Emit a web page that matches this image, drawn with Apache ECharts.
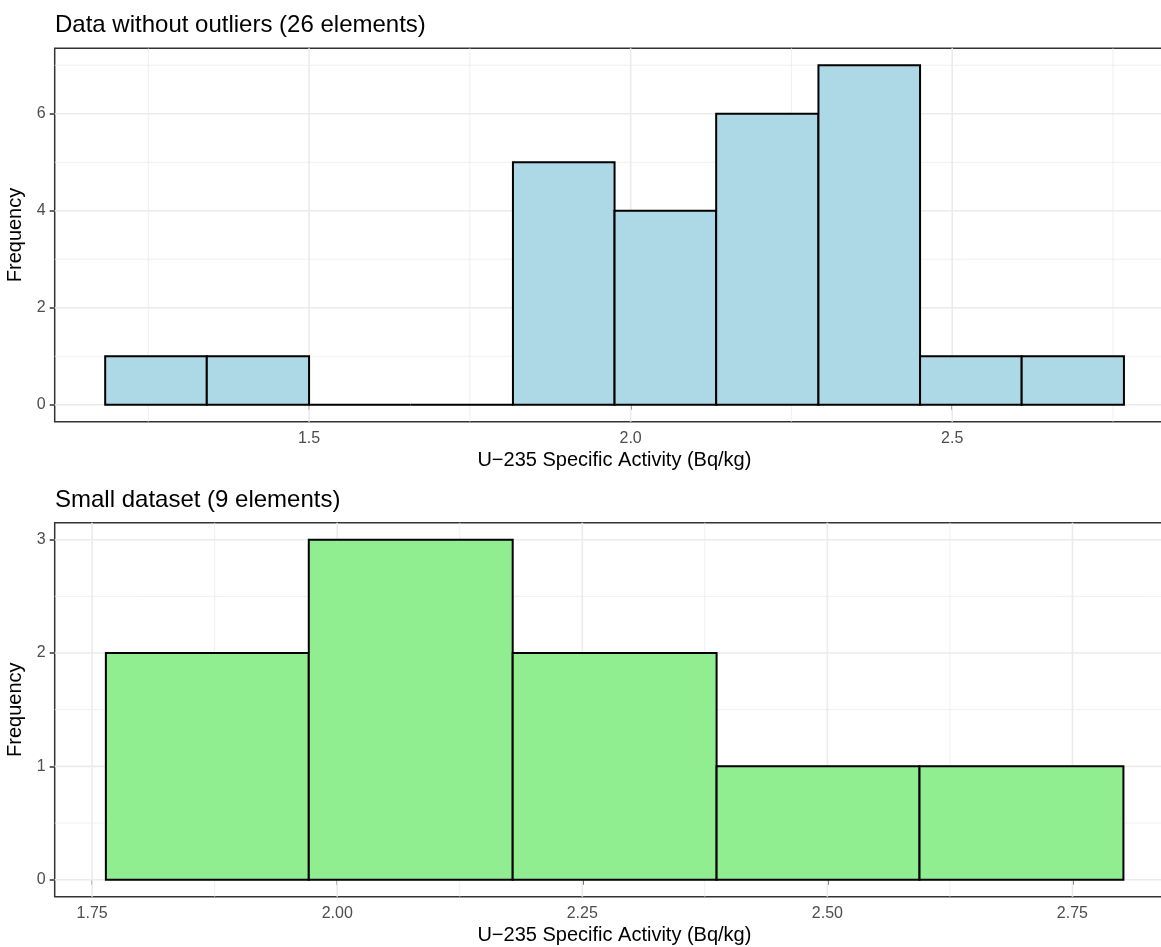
<!DOCTYPE html>
<html>
<head>
<meta charset="utf-8">
<title>U-235 histograms</title>
<script src="https://cdn.jsdelivr.net/npm/echarts@6/dist/echarts.min.js"></script>
<style>
  html, body { margin: 0; padding: 0; background: #fff; }
  #chart { width: 1161px; height: 947px; }
</style>
</head>
<body>
<div id="chart"></div>
<script>
// top panel: data without outliers
const topEdges = [1.183, 1.341, 1.500, 1.658, 1.817, 1.975, 2.133, 2.292, 2.450, 2.608, 2.767];
const topCounts = [1, 1, 0, 0, 5, 4, 6, 7, 1, 1];
const topXTicks = [1.5, 2.0, 2.5];
const topXMinor = [1.25, 1.75, 2.25, 2.75];
const topYTicks = [0, 2, 4, 6];
const topYMinor = [1, 3, 5, 7];

// bottom panel: small dataset
const botEdges = [1.764, 1.971, 2.179, 2.387, 2.594, 2.802];
const botCounts = [2, 3, 2, 1, 1];
const botXTicks = [1.75, 2.00, 2.25, 2.50, 2.75];
const botXMinor = [1.875, 2.125, 2.375, 2.625];
const botYTicks = [0, 1, 2, 3];
const botYMinor = [0.5, 1.5, 2.5];

const FONT = "Liberation Sans, Arial, Helvetica, sans-serif";
const GRID_COLOR = "#ebebeb";
const DARK = "#333333";

function binData(edges, counts) {
  return counts.map((c, i) => [edges[i], edges[i + 1], c]);
}

// histogram bars
function barSeries(idx, edges, counts, fill) {
  return {
    type: "custom",
    xAxisIndex: idx,
    yAxisIndex: idx,
    z: 3,
    dimensions: ["x0", "x1", "count"],
    encode: { x: [0, 1], y: 2 },
    data: binData(edges, counts),
    renderItem(params, api) {
      const p0 = api.coord([api.value(0), 0]);
      const p1 = api.coord([api.value(1), api.value(2)]);
      return {
        type: "rect",
        shape: { x: p0[0], y: p1[1], width: p1[0] - p0[0], height: p0[1] - p1[1] },
        style: { fill: fill, stroke: "#000", lineWidth: 2 },
      };
    },
  };
}

// vertical grid lines
function vGrid(idx, values, width) {
  return {
    type: "custom",
    xAxisIndex: idx,
    yAxisIndex: idx,
    z: 1,
    silent: true,
    data: values.map((v) => [v]),
    renderItem(params, api) {
      const cs = params.coordSys;
      const x = api.coord([api.value(0), 0])[0];
      return {
        type: "line",
        shape: { x1: x, y1: cs.y, x2: x, y2: cs.y + cs.height },
        style: { stroke: GRID_COLOR, lineWidth: width },
      };
    },
  };
}

// horizontal grid lines
function hGrid(idx, values, width, xmin) {
  return {
    type: "custom",
    xAxisIndex: idx,
    yAxisIndex: idx,
    z: 1,
    silent: true,
    data: values.map((v) => [xmin, v]),
    encode: { x: 0, y: 1 },
    renderItem(params, api) {
      const cs = params.coordSys;
      const y = api.coord([api.value(0), api.value(1)])[1];
      return {
        type: "line",
        shape: { x1: cs.x, y1: y, x2: cs.x + cs.width, y2: y },
        style: { stroke: GRID_COLOR, lineWidth: width },
      };
    },
  };
}

function xAxis(idx, min, max, ticks, digits) {
  return {
    type: "value",
    gridIndex: idx,
    min: min,
    max: max,
    splitLine: { show: false },
    axisLine: { show: false },
    axisTick: {
      show: true,
      customValues: ticks,
      length: 5,
      lineStyle: { color: DARK, width: 1.5 },
    },
    axisLabel: {
      customValues: ticks,
      formatter: (v) => v.toFixed(digits),
      color: "#4d4d4d",
      fontSize: 16,
      fontFamily: FONT,
      margin: 9,
    },
    name: "U\u2212235 Specific Activity (Bq/kg)",
    nameLocation: "middle",
    nameGap: 29,
    nameTextStyle: { color: "#000", fontSize: 20, fontFamily: FONT },
  };
}

function yAxis(idx, min, max, ticks) {
  return {
    type: "value",
    gridIndex: idx,
    min: min,
    max: max,
    splitLine: { show: false },
    axisLine: { show: false },
    axisTick: {
      show: true,
      customValues: ticks,
      length: 5,
      lineStyle: { color: DARK, width: 1.5 },
    },
    axisLabel: {
      customValues: ticks,
      color: "#4d4d4d",
      fontSize: 16,
      fontFamily: FONT,
      margin: 9,
    },
    name: "Frequency",
    nameLocation: "middle",
    nameGap: 23,
    nameTextStyle: { color: "#000", fontSize: 20, fontFamily: FONT },
  };
}

const topX = [1.1045, 2.845];
const botX = [1.7118, 2.8537];

const option = {
  animation: false,
  backgroundColor: "#fff",
  title: [
    {
      text: "Data without outliers (26 elements)",
      left: 55,
      top: 13,
      padding: 0,
      textStyle: { color: "#000", fontSize: 24, fontWeight: "normal", fontFamily: FONT },
    },
    {
      text: "Small dataset (9 elements)",
      left: 55,
      top: 488,
      padding: 0,
      textStyle: { color: "#000", fontSize: 24, fontWeight: "normal", fontFamily: FONT },
    },
  ],
  // panel runs past the right edge of the picture, like the cropped original
  grid: [
    {
      left: 54.7, top: 48.3, width: 1119.4, height: 373.4,
      outerBoundsMode: "none", containLabel: false,
      show: true, borderColor: DARK, borderWidth: 1.5, backgroundColor: "transparent",
    },
    {
      left: 54.7, top: 522.7, width: 1119.4, height: 374,
      outerBoundsMode: "none", containLabel: false,
      show: true, borderColor: DARK, borderWidth: 1.5, backgroundColor: "transparent",
    },
  ],
  xAxis: [
    xAxis(0, topX[0], topX[1], topXTicks, 1),
    xAxis(1, botX[0], botX[1], botXTicks, 2),
  ],
  yAxis: [
    yAxis(0, -0.35, 7.35, topYTicks),
    yAxis(1, -0.15, 3.15, botYTicks),
  ],
  series: [
    vGrid(0, topXMinor, 0.8),
    vGrid(0, topXTicks, 1.6),
    hGrid(0, topYMinor, 0.8, topX[0]),
    hGrid(0, topYTicks, 1.6, topX[0]),
    barSeries(0, topEdges, topCounts, "#add8e6"),
    vGrid(1, botXMinor, 0.8),
    vGrid(1, botXTicks, 1.6),
    hGrid(1, botYMinor, 0.8, botX[0]),
    hGrid(1, botYTicks, 1.6, botX[0]),
    barSeries(1, botEdges, botCounts, "#90ee90"),
  ],
};

const chart = echarts.init(document.getElementById("chart"));
chart.setOption(option);
</script>
</body>
</html>
